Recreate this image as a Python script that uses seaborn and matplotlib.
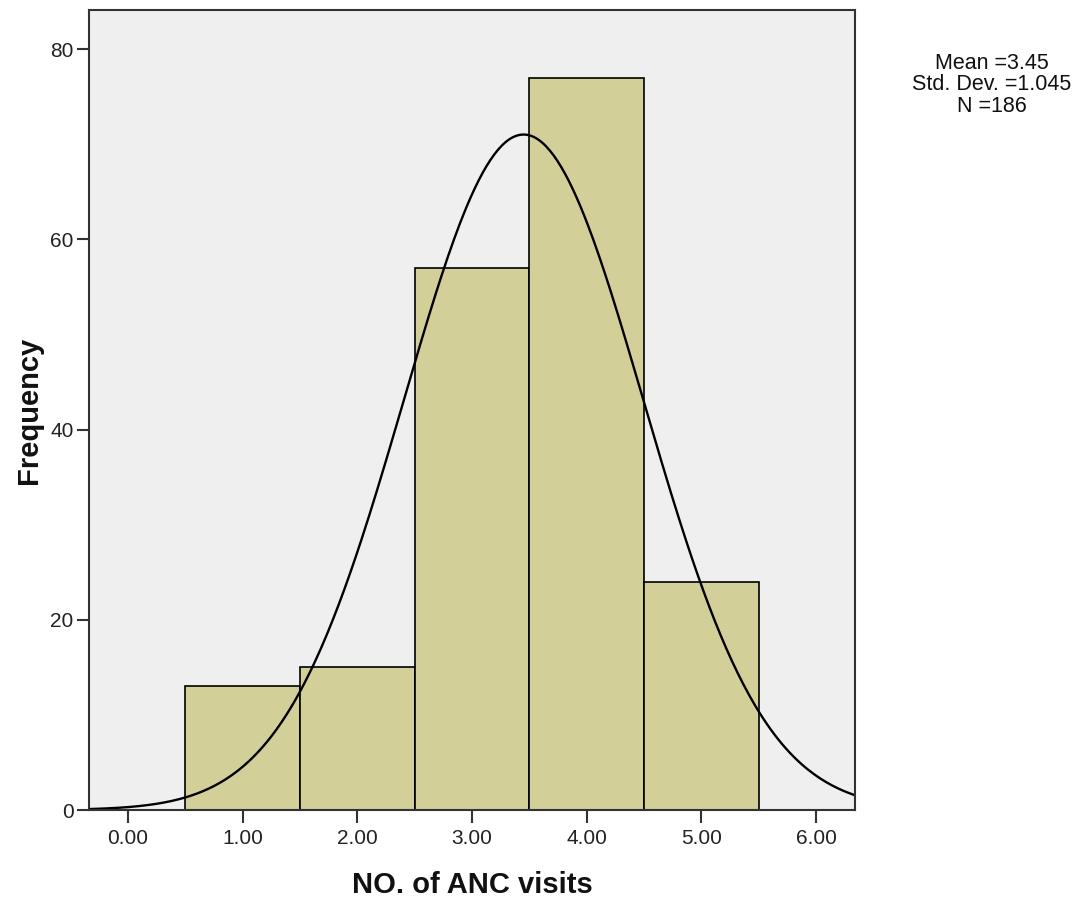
import numpy as np
import pandas as pd
import matplotlib
matplotlib.use("Agg")
import matplotlib.pyplot as plt
import seaborn as sns

# Number of antenatal care visits and how many women reported each
visits = [1, 2, 3, 4, 5]
counts = [13, 15, 57, 77, 24]
mean_val = 3.45
sd_val = 1.045
n_total = 186
x_ticks = [0, 1, 2, 3, 4, 5, 6]
y_ticks = [0, 20, 40, 60, 80]

sns.set_theme(style="white")
plt.rcParams["font.family"] = ["Liberation Sans", "DejaVu Sans"]

df = pd.DataFrame({"visits": np.repeat(visits, counts)})

fig = plt.figure(figsize=(10.77, 9.0), dpi=100)
ax = fig.add_axes([89 / 1077, 1 - 810 / 900, (855 - 89) / 1077, 800 / 900])
ax.set_facecolor("#EFEFEF")

edges = np.arange(min(visits) - 0.5, max(visits) + 1.0, 1.0)
sns.histplot(data=df, x="visits", bins=edges, ax=ax, stat="count",
             color="#D3CF98", alpha=1.0, edgecolor="black", linewidth=1.2)

# Fitted normal curve scaled to the histogram (bin width 1)
xs = np.linspace(-0.34, 6.34, 400)
pdf = np.exp(-0.5 * ((xs - mean_val) / sd_val) ** 2) / (sd_val * np.sqrt(2 * np.pi))
ax.plot(xs, n_total * 1.0 * pdf, color="black", linewidth=1.7)

ax.set_xlim(-0.34, 6.34)
ax.set_ylim(0, 84.1)
ax.set_xticks(x_ticks)
ax.set_xticklabels([f"{v:.2f}" for v in x_ticks])
ax.set_yticks(y_ticks)
ax.tick_params(axis="both", direction="out", length=9, width=1.5,
               color="#333333", labelsize=15, bottom=True, left=True,
               labelcolor="#222222")
ax.tick_params(axis="x", pad=5)
ax.tick_params(axis="y", pad=2)
for s in ax.spines.values():
    s.set_color("#333333")
    s.set_linewidth(1.5)

ax.set_xlabel("NO. of ANC visits", fontsize=21, fontweight="bold", labelpad=16,
              color="#111111")
ax.set_ylabel("Frequency", fontsize=21, fontweight="bold", labelpad=5,
              color="#111111")

fig.text(992 / 1077, 1 - 53 / 900,
         f"Mean ={mean_val:.2f}\nStd. Dev. ={sd_val:.3f}\nN ={n_total}",
         ha="center", va="top", fontsize=15.5, linespacing=1.02, color="#111111")

fig.savefig("out.png", dpi=100)
